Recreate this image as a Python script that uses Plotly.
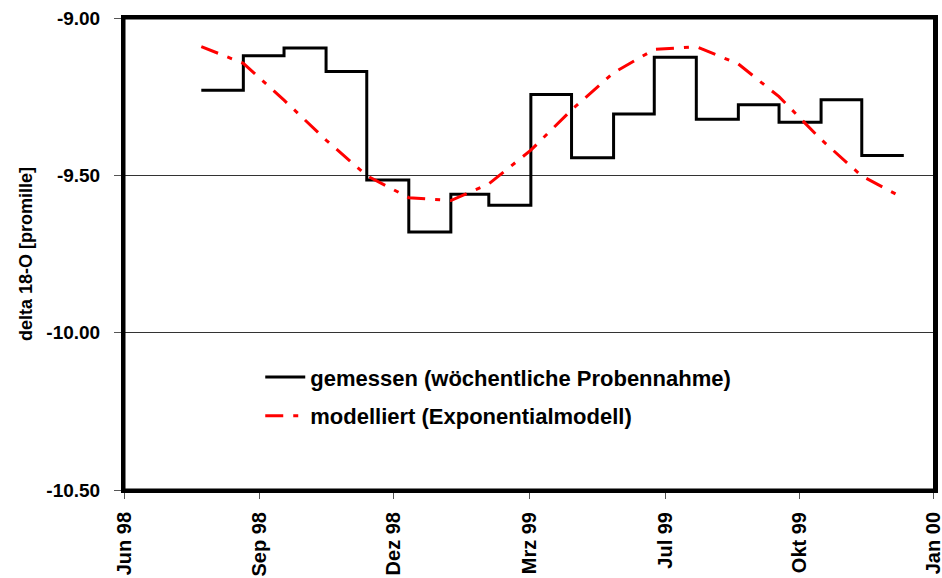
import plotly.graph_objects as go

# monthly composite samples (value holds for the whole month)
month_starts = ["1998-08-01", "1998-09-01", "1998-10-01", "1998-11-01", "1998-12-01",
                "1999-01-01", "1999-02-01", "1999-03-01", "1999-04-01", "1999-05-01",
                "1999-06-01", "1999-07-01", "1999-08-01", "1999-09-01", "1999-10-01",
                "1999-11-01", "1999-12-01", "2000-01-01"]
measured = [-9.23, -9.12, -9.095, -9.17, -9.515, -9.68, -9.56, -9.595, -9.243, -9.444,
            -9.305, -9.125, -9.322, -9.276, -9.331, -9.26, -9.437, -9.437]
modelled = [-9.091, -9.144, -9.261, -9.388, -9.501, -9.571, -9.580, -9.527, -9.420,
            -9.292, -9.174, -9.100, -9.091, -9.146, -9.250, -9.386, -9.502, -9.573]

tick_dates = ["1998-06-05", "1998-09-13", "1998-12-21", "1999-03-31",
              "1999-07-09", "1999-10-16", "2000-01-23"]
tick_labels = ["Jun 98", "Sep 98", "Dez 98", "Mrz 99", "Jul 99", "Okt 99", "Jan 00"]

FONT = "Liberation Sans, Arial, sans-serif"

fig = go.Figure()
fig.add_trace(go.Scatter(
    x=month_starts, y=measured, mode="lines", line_shape="hv",
    line=dict(color="black", width=3),
    name="<b>gemessen (wöchentliche Probennahme)</b>", legend="legend"
))
fig.add_trace(go.Scatter(
    x=month_starts, y=modelled, mode="lines",
    line=dict(color="#ff0000", width=3, dash="18px,10px,5px,10px"),
    name="<b>modelliert (Exponentialmodell)</b>", legend="legend2"
))

legend_style = dict(x=0.168, xanchor="left", yanchor="middle", itemwidth=40,
                    bgcolor="rgba(0,0,0,0)", font=dict(size=22, family=FONT))
fig.update_layout(
    width=942, height=578,
    margin=dict(l=124, r=7, t=18, b=88),
    paper_bgcolor="white", plot_bgcolor="white",
    font=dict(family=FONT, size=20, color="black"),
    showlegend=True,
    legend=dict(y=0.239, **legend_style),
    legend2=dict(y=0.157, **legend_style),
)
# plot area frame (plus an explicit right edge)
fig.add_shape(type="rect", xref="paper", yref="paper", x0=0, y0=0, x1=1, y1=1,
              line=dict(color="black", width=3), layer="above")
fig.add_shape(type="line", xref="paper", yref="paper", x0=1, y0=0, x1=1, y1=1,
              line=dict(color="black", width=4), layer="above")
fig.update_xaxes(
    type="date", range=["1998-06-05", "2000-01-24"],
    tickvals=tick_dates, ticktext=["<b>%s</b>" % t for t in tick_labels],
    tickangle=-90, ticks="outside", ticklen=6, tickwidth=1, tickcolor="#555555",
    ticklabelstandoff=5, ticklabeloverflow="allow", automargin=False,
    showline=True, linewidth=3, linecolor="black", mirror=True,
    showgrid=False, zeroline=False,
    tickfont=dict(size=20, family=FONT),
)
fig.update_yaxes(
    range=[-10.5, -9.0], tickvals=[-10.5, -10.0, -9.5, -9.0],
    ticktext=["<b>-10.50</b>", "<b>-10.00</b>", "<b>-9.50</b>", "<b>-9.00</b>"],
    ticks="outside", ticklen=7, tickwidth=1, tickcolor="#555555",
    ticklabelstandoff=10, automargin=False,
    showline=True, linewidth=3, linecolor="black", mirror=True,
    showgrid=True, gridcolor="#333333", gridwidth=1, zeroline=False,
    tickfont=dict(size=19, family=FONT),
    title=dict(text="<b>delta 18-O [promille]</b>", font=dict(size=18, family=FONT),
               standoff=10),
)

# page body has a default margin; drop it so the figure sits at the window origin
fig.write_html(
    "out.html",
    config={"displayModeBar": False},
    post_script="document.body.style.margin='0';document.body.style.overflow='hidden';",
)
